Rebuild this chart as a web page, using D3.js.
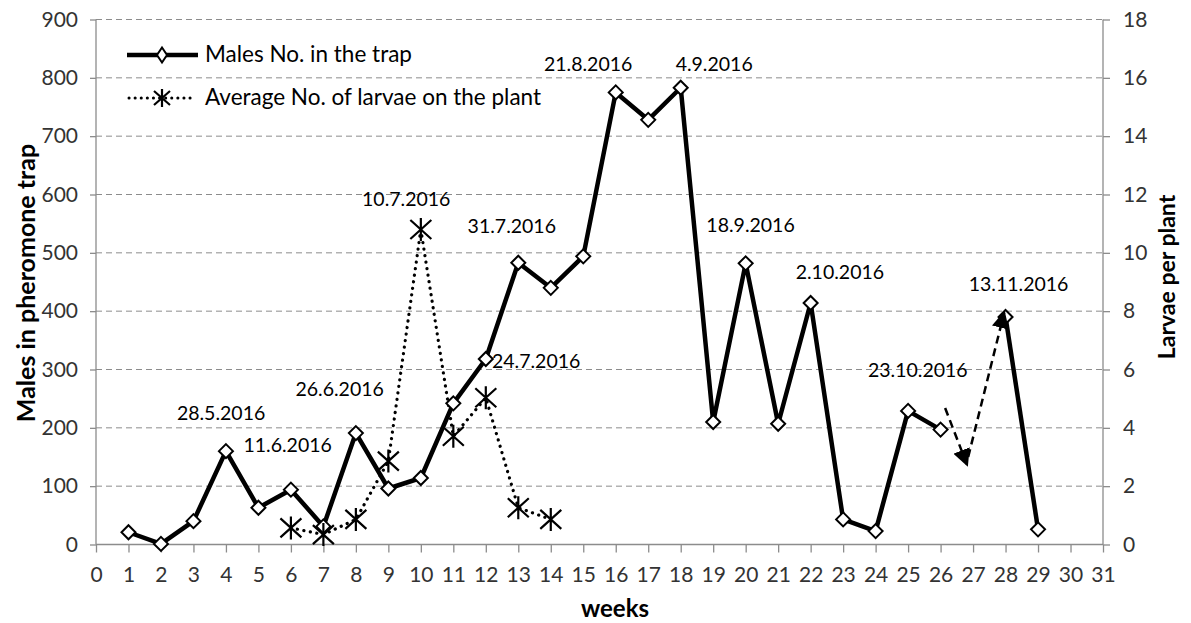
<!DOCTYPE html>
<html><head><meta charset="utf-8">
<script src="https://cdn.jsdelivr.net/npm/d3@7/dist/d3.min.js"></script>
<style>body{margin:0;background:#fff}svg{display:block}</style>
</head><body>
<svg id="c" width="1191" height="623"></svg>
<script>
const weeks = d3.range(0, 32);
const malesWeeks = [1,2,3,4,5,6,7,8,9,10,11,12,13,14,15,16,17,18,19,20,21,22,23,24,25,26];
const malesValues = [21,1,40,160,63,94,31,191,96,114,242,318,483,440,494,775,728,783,210,482,207,414,43,23,229,197];
const malesWeeks2 = [28,29];
const malesValues2 = [390,26];
const larvaeWeeks = [6,7,8,9,10,11,12,13,14];
const larvaeValues = [0.57,0.34,0.86,2.86,10.8,3.71,5.03,1.26,0.86];
const leftTicks = [0,100,200,300,400,500,600,700,800,900];
const rightTicks = [0,2,4,6,8,10,12,14,16,18];
const dateLabels = [
  {t:"28.5.2016", w:3.85, v:226},
  {t:"11.6.2016", w:5.9, v:171},
  {t:"26.6.2016", w:7.5, v:267},
  {t:"10.7.2016", w:9.55, v:593},
  {t:"31.7.2016", w:12.8, v:546},
  {t:"24.7.2016", w:13.55, v:314},
  {t:"21.8.2016", w:15.15, v:823},
  {t:"4.9.2016", w:19.03, v:823},
  {t:"18.9.2016", w:20.15, v:547},
  {t:"2.10.2016", w:22.9, v:467},
  {t:"13.11.2016", w:28.4, v:446},
  {t:"23.10.2016", w:25.3, v:299}
];
const arrowPts = [[26.14,234,26.82,136],[26.85,150,27.96,398]];

const font = "Lato, 'Open Sans', sans-serif";
const svg = d3.select("#c");
const x = d3.scaleLinear().domain([0,31]).range([96,1103]);
const yL = d3.scaleLinear().domain([0,900]).range([544.5,19.5]);
const yR = d3.scaleLinear().domain([0,18]).range([544.5,19.5]);

// gridlines
svg.append("g").selectAll("line").data(leftTicks.slice(1)).join("line")
  .attr("x1",x(0)).attr("x2",x(31)).attr("y1",d=>yL(d)).attr("y2",d=>yL(d))
  .attr("stroke","#8c8c8c").attr("stroke-width",1).attr("stroke-dasharray","6,4");

// axes
const axL = svg.append("g").attr("transform",`translate(${x(0)},0)`)
  .call(d3.axisLeft(yL).tickValues(leftTicks).tickSize(6).tickPadding(12));
const axR = svg.append("g").attr("transform",`translate(${x(31)},0)`)
  .call(d3.axisRight(yR).tickValues(rightTicks).tickSize(7).tickPadding(13));
const axB = svg.append("g").attr("transform",`translate(0,${yL(0)})`)
  .call(d3.axisBottom(x).tickValues(weeks).tickSize(8).tickPadding(15));
[axL,axR,axB].forEach(a=>{
  a.select(".domain").attr("stroke","#8c8c8c").attr("stroke-width",1.3);
  a.selectAll(".tick line").attr("stroke","#8c8c8c").attr("stroke-width",1.3);
  a.selectAll(".tick text").attr("font-family",font).attr("font-size",21).attr("fill","#333");
});
axL.select(".domain").attr("d",`M0,${yL(0)}V${yL(900)}`);
axR.select(".domain").attr("d",`M0,${yR(0)}V${yR(18)}`);
axB.select(".domain").attr("d",`M${x(0)},0H${x(31)}`);

// titles
svg.append("text").attr("x",615).attr("y",617).attr("text-anchor","middle")
  .attr("font-family",font).attr("font-weight","bold").attr("font-size",24).text("weeks");
svg.append("text").attr("transform","translate(35,283) rotate(-90)").attr("text-anchor","middle")
  .attr("font-family",font).attr("font-weight","bold").attr("font-size",25).text("Males in pheromone trap");
svg.append("text").attr("transform","translate(1175,277) rotate(-90)").attr("text-anchor","middle")
  .attr("font-family",font).attr("font-weight","bold").attr("font-size",23).text("Larvae per plant");

// larvae dotted line
const lineL = d3.line().x(d=>x(d[0])).y(d=>yR(d[1]));
const larvae = larvaeWeeks.map((w,i)=>[w,larvaeValues[i]]);
svg.append("path").attr("d",lineL(larvae)).attr("fill","none").attr("stroke","#000")
  .attr("stroke-width",3.2).attr("stroke-dasharray","0.1,6.5").attr("stroke-linecap","round");

// males line
const lineM = d3.line().x(d=>x(d[0])).y(d=>yL(d[1]));
const m1 = malesWeeks.map((w,i)=>[w,malesValues[i]]);
const m2 = malesWeeks2.map((w,i)=>[w,malesValues2[i]]);
[m1,m2].forEach(s=>svg.append("path").attr("d",lineM(s)).attr("fill","none").attr("stroke","#000")
  .attr("stroke-width",4.5).attr("stroke-linejoin","round"));

function diamond(g,cx,cy,rx,ry){
  g.append("path").attr("d",`M${cx},${cy-ry}L${cx+rx},${cy}L${cx},${cy+ry}L${cx-rx},${cy}Z`)
   .attr("fill","#fff").attr("stroke","#000").attr("stroke-width",2);
}
function star(g,cx,cy,r,a,b){
  g.append("path").attr("d",`M${cx-a},${cy-b}L${cx+a},${cy+b}M${cx-a},${cy+b}L${cx+a},${cy-b}M${cx},${cy-r}L${cx},${cy+r}`)
   .attr("fill","none").attr("stroke","#000").attr("stroke-width",2.2);
}
const gm = svg.append("g");
m1.concat(m2).forEach(d=>diamond(gm,x(d[0]),yL(d[1]),7,7));
const gs = svg.append("g");
larvae.forEach(d=>star(gs,x(d[0]),yR(d[1]),11.5,10.5,9.5));

// date labels
svg.append("g").selectAll("text").data(dateLabels).join("text")
  .attr("x",d=>x(d.w)).attr("y",d=>yL(d.v)).attr("dy","0.36em").attr("text-anchor","middle")
  .attr("font-family",font).attr("font-size",19.5).attr("fill","#000").text(d=>d.t);

// dashed arrows
const defs = svg.append("defs");
defs.append("marker").attr("id","ah").attr("viewBox","0 0 10 10").attr("refX",9).attr("refY",5)
  .attr("markerWidth",7).attr("markerHeight",7).attr("orient","auto-start-reverse")
  .append("path").attr("d","M0,0L10,5L0,10Z").attr("fill","#000");
arrowPts.forEach(a=>svg.append("line").attr("x1",x(a[0])).attr("y1",yL(a[1])).attr("x2",x(a[2])).attr("y2",yL(a[3]))
  .attr("stroke","#000").attr("stroke-width",2.5).attr("stroke-dasharray","8,5").attr("marker-end","url(#ah)"));

// legend
const lg = svg.append("g");
lg.append("line").attr("x1",127).attr("x2",198).attr("y1",55).attr("y2",55).attr("stroke","#000").attr("stroke-width",4.5);
diamond(lg,162,55,5,7.5);
lg.append("text").attr("x",205).attr("y",62).attr("font-family",font).attr("font-size",22.5).text("Males No. in the trap");
lg.append("line").attr("x1",129).attr("x2",193).attr("y1",98).attr("y2",98).attr("stroke","#000")
  .attr("stroke-width",3).attr("stroke-dasharray","0.1,6").attr("stroke-linecap","round");
star(lg,162,98,9,8,7);
lg.append("text").attr("x",205).attr("y",105).attr("font-family",font).attr("font-size",22.5).text("Average No. of larvae on the plant");
</script>
</body></html>
